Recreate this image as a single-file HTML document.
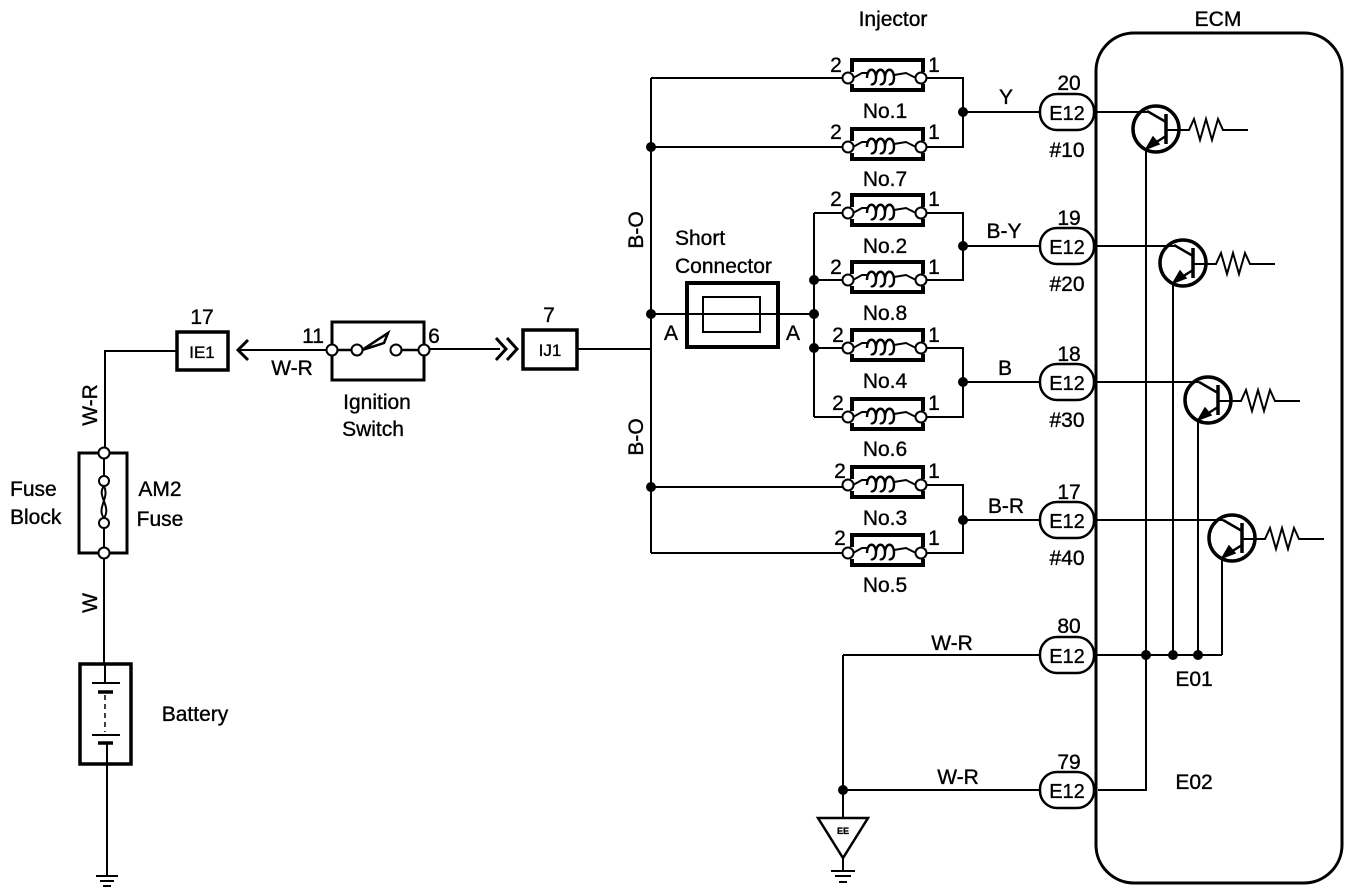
<!DOCTYPE html>
<html><head><meta charset="utf-8"><style>
html,body{margin:0;padding:0;background:#fff;}
svg{display:block;}
text{font-family:"Liberation Sans",Arial,sans-serif;fill:#000;stroke:#000;stroke-width:0.35;}
</style></head><body>
<svg width="1360" height="894" viewBox="0 0 1360 894" xmlns="http://www.w3.org/2000/svg">
<defs>
<g id="inj" fill="none" stroke="#000">
  <path d="M852,-6 V-18 H923 V-6" stroke-width="4"/>
  <path d="M852,6 V12 H923 V6" stroke-width="4"/>
  <path d="M853,0 L862,-5 L868,-5" stroke-width="2"/>
  <path d="M867,0 c0,-11 9,-11 9,0 c0,-11 9,-11 9,0 c0,-11 9,-11 9,0 c0,6 -4,7 -5,6 M876,0 c0,6 -4,7 -5,6 M885,0 c0,6 -4,7 -5,6" stroke-width="2.4"/>
  <path d="M894,-3 L906,-5 L916,0" stroke-width="2"/>
  <circle cx="848" cy="0" r="5.5" fill="#fff" stroke-width="2"/>
  <circle cx="921" cy="0" r="5.5" fill="#fff" stroke-width="2"/>
</g>
<g id="e12">
  <rect x="-27" y="-18" width="54" height="36" rx="17" ry="17" fill="#fff" stroke="#000" stroke-width="2.5"/>
  <text x="0" y="8" font-size="20" text-anchor="middle">E12</text>
</g>
<g id="tr" fill="none" stroke="#000">
  <circle cx="0" cy="0" r="23" stroke-width="3.5"/>
  <path d="M10,-15 V15" stroke-width="3.5"/>
  <path d="M10,-7 L-9,-18" stroke-width="2.5"/>
  <path d="M10,7 L-9,19" stroke-width="2.5"/>
  <path d="M-10,20 L-3,8 L3,15 Z" fill="#000" stroke-width="1.5"/>
  <path d="M10,1 H33 L38,-10 L44,11 L50,-10 L56,11 L62,-10 L67,1 H92" stroke-width="2"/>
</g>
</defs>

<g fill="none" stroke="#000" stroke-width="2">
<rect x="1096" y="33" width="246" height="850" rx="38" ry="38" stroke-width="3"/>

<path d="M651,78 V553"/>
<path d="M651,78 H843"/>
<path d="M651,147 H843"/>
<path d="M651,487 H843"/>
<path d="M651,553 H843"/>
<path d="M578,349 H651"/>
<path d="M651,314 H814"/>
<path d="M814,213 V417"/>
<path d="M814,213 H843 M814,280 H843 M814,348 H843 M814,417 H843"/>
<path d="M926,78 H963 V147 H926 M963,112 H1040"/>
<path d="M926,213 H963 V280 H926 M963,246 H1040"/>
<path d="M926,348 H963 V417 H926 M963,382 H1040"/>
<path d="M926,485 H963 V553 H926 M963,520 H1040"/>

<rect x="687" y="283" width="91" height="64" stroke-width="4"/>
<rect x="703" y="297" width="57" height="35"/>

<rect x="523" y="330" width="54" height="39" stroke-width="3.5"/>
<path d="M428,349 H500"/>
<path d="M496,338 L506,349 L496,360 M507,338 L517,349 L507,360" stroke-width="3"/>

<path d="M332,344 V322 H424 V344 M332,356 V380 H424 V356" stroke-width="3"/>
<path d="M338,350 H352 M362,350 L388,333 L384,343 Z M402,350 H419" stroke-width="2.5"/>
<path d="M240,350 H328"/>
<path d="M248,340 L238,350 L248,360" stroke-width="3"/>

<rect x="177" y="332" width="51" height="38" stroke-width="3.5"/>
<path d="M177,351 H105 V447"/>

<path d="M100,453 H79 V553 H100 M109,453 H127 V553 H109" stroke-width="3"/>
<path d="M104,458 V476 M104,528 V547"/>
<path d="M104,486 C96,496 112,506 104,518 M104,486 C110,498 96,508 104,518" stroke-width="2"/>
<path d="M104,558 V663"/>

<rect x="80" y="664" width="51" height="100" stroke-width="3.5"/>
<path d="M105,664 V683"/>
<path d="M92,683 H120" stroke-width="2"/>
<path d="M98,692 H113" stroke-width="3.5"/>
<path d="M105,695 V732" stroke-dasharray="5,4" stroke-width="1.5"/>
<path d="M92,735 H120" stroke-width="2"/>
<path d="M98,743 H113" stroke-width="3.5"/>
<path d="M107,743 V876"/>
<path d="M96,876 H118 M100,881 H114 M103,886 H111"/>

<path d="M843,655 V818"/>
<path d="M843,655 H1040 M843,790 H1040"/>
<path d="M818,818 H868 L843,858 Z" stroke-width="2.5"/>
<path d="M843,858 V870 M831,871 H855 M835,876 H851 M839,882 H847"/>

<path d="M1095,112 H1148 M1095,246 H1175 M1095,382 H1199 M1095,520 H1223"/>
<path d="M1146,149 V790 H1098"/>
<path d="M1173,283 V655 M1198,420 V655 M1222,558 V655"/>
<path d="M1095,655 H1222"/>
</g>

<use href="#inj" x="0" y="78"/>
<use href="#inj" x="0" y="147"/>
<use href="#inj" x="0" y="213"/>
<use href="#inj" x="0" y="280"/>
<use href="#inj" x="0" y="348"/>
<use href="#inj" x="0" y="417"/>
<use href="#inj" x="0" y="485"/>
<use href="#inj" x="0" y="553"/>

<use href="#e12" x="1067" y="112"/>
<use href="#e12" x="1067" y="246"/>
<use href="#e12" x="1067" y="382"/>
<use href="#e12" x="1067" y="520"/>
<use href="#e12" x="1067" y="655"/>
<use href="#e12" x="1067" y="790"/>

<use href="#tr" x="1156" y="129"/>
<use href="#tr" x="1183" y="263"/>
<use href="#tr" x="1208" y="400"/>
<use href="#tr" x="1232" y="538"/>

<g fill="#000">
<circle cx="651" cy="147" r="5"/>
<circle cx="651" cy="314" r="5"/>
<circle cx="651" cy="487" r="5"/>
<circle cx="814" cy="280" r="5"/>
<circle cx="814" cy="314" r="5"/>
<circle cx="814" cy="348" r="5"/>
<circle cx="963" cy="112" r="5"/>
<circle cx="963" cy="246" r="5"/>
<circle cx="963" cy="382" r="5"/>
<circle cx="963" cy="520" r="5"/>
<circle cx="843" cy="790" r="5"/>
<circle cx="1146" cy="655" r="5"/>
<circle cx="1173" cy="655" r="5"/>
<circle cx="1198" cy="655" r="5"/>
</g>
<g fill="#fff" stroke="#000" stroke-width="2">
<circle cx="104" cy="453" r="5.5"/>
<circle cx="104" cy="481" r="5"/>
<circle cx="104" cy="523" r="5"/>
<circle cx="104" cy="553" r="5.5"/>
<circle cx="332" cy="350" r="5.5"/>
<circle cx="357" cy="350" r="5.5"/>
<circle cx="396" cy="350" r="5.5"/>
<circle cx="424" cy="350" r="5.5"/>
</g>

<g font-size="21">
<text x="893" y="26" text-anchor="middle">Injector</text>
<text x="1218" y="26" text-anchor="middle">ECM</text>
<g text-anchor="middle">
<text x="885" y="118">No.1</text>
<text x="885" y="186">No.7</text>
<text x="885" y="253">No.2</text>
<text x="885" y="320">No.8</text>
<text x="885" y="388">No.4</text>
<text x="885" y="456">No.6</text>
<text x="885" y="525">No.3</text>
<text x="885" y="592">No.5</text>
<text x="836" y="72">2</text><text x="934" y="72">1</text>
<text x="836" y="139">2</text><text x="934" y="139">1</text>
<text x="836" y="206">2</text><text x="934" y="206">1</text>
<text x="836" y="274">2</text><text x="934" y="274">1</text>
<text x="838" y="342">2</text><text x="934" y="342">1</text>
<text x="838" y="410">2</text><text x="934" y="410">1</text>
<text x="840" y="478">2</text><text x="934" y="478">1</text>
<text x="840" y="545">2</text><text x="934" y="545">1</text>
<text x="1006" y="104">Y</text>
<text x="1004" y="238">B-Y</text>
<text x="1005" y="375">B</text>
<text x="1006" y="513">B-R</text>
<text x="1069" y="90">20</text>
<text x="1069" y="225">19</text>
<text x="1069" y="361">18</text>
<text x="1069" y="499">17</text>
<text x="1069" y="633">80</text>
<text x="1069" y="769">79</text>
<text x="1067" y="157">#10</text>
<text x="1067" y="291">#20</text>
<text x="1067" y="427">#30</text>
<text x="1067" y="565">#40</text>
<text x="952" y="650">W-R</text>
<text x="958" y="784">W-R</text>
<text x="1194" y="686">E01</text>
<text x="1194" y="789">E02</text>
<text x="671" y="340">A</text>
<text x="793" y="340">A</text>
<text x="549" y="322">7</text>
<text x="202" y="324">17</text>
<text x="313" y="343">11</text>
<text x="434" y="343">6</text>
<text x="292" y="375">W-R</text>
<text x="377" y="409">Ignition</text>
<text x="373" y="436">Switch</text>
<text x="160" y="496">AM2</text>
<text x="160" y="526">Fuse</text>
<text x="195" y="721">Battery</text>
</g>
<text x="10" y="496">Fuse</text>
<text x="10" y="524">Block</text>
<text x="675" y="245">Short</text>
<text x="675" y="273">Connector</text>
<text x="550" y="356" text-anchor="middle" font-size="17">IJ1</text>
<text x="202" y="358" text-anchor="middle" font-size="17">IE1</text>
<text transform="translate(643,230) rotate(-90)" text-anchor="middle">B-O</text>
<text transform="translate(643,437) rotate(-90)" text-anchor="middle">B-O</text>
<text transform="translate(97,405) rotate(-90)" text-anchor="middle">W-R</text>
<text transform="translate(97,603) rotate(-90)" text-anchor="middle">W</text>
<text x="843" y="834" text-anchor="middle" font-size="9" font-weight="bold">EE</text>
</g>
</svg>
</body></html>
